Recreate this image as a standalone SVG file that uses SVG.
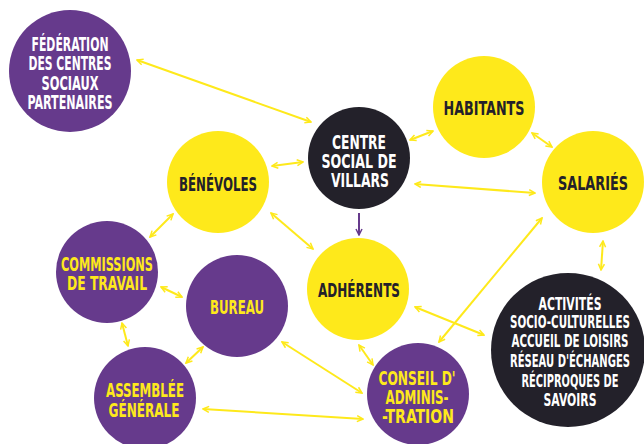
<svg xmlns="http://www.w3.org/2000/svg" width="644" height="444" viewBox="0 0 644 444">
<style>
.p{fill:#663a8c}.y{fill:#fee91b}.k{fill:#23212a}
text{font-family:"DejaVu Sans Condensed","DejaVu Sans",sans-serif;font-weight:bold;font-size:20px;text-anchor:middle}
.tw{fill:#ffffff}.ty{fill:#fee91b}.tk{fill:#23212a}
.s{font-size:17px}
.c{stroke:#fee91b;stroke-width:2;fill:none;marker-start:url(#a);marker-end:url(#a)}
.cp{stroke:#663a8c;stroke-width:2;fill:none;marker-end:url(#ap)}
</style>
<defs>
<marker id="a" viewBox="0 0 8 8" refX="7" refY="4" markerWidth="4" markerHeight="4" orient="auto-start-reverse" markerUnits="strokeWidth"><path d="M1,1 L7,4 L1,7" fill="none" stroke="#fee91b" stroke-width="1.5"/></marker>
<marker id="ap" viewBox="0 0 8 8" refX="7" refY="4" markerWidth="4" markerHeight="4" orient="auto" markerUnits="strokeWidth"><path d="M1,1 L7,4 L1,7" fill="none" stroke="#663a8c" stroke-width="1.5"/></marker>
</defs>
<rect width="644" height="444" fill="#ffffff"/>
<g id="connectors">
<line class="c" x1="137" y1="60" x2="311" y2="122"/>
<line class="c" x1="272" y1="166" x2="303" y2="162"/>
<line class="c" x1="410" y1="140" x2="433" y2="131"/>
<line class="c" x1="532" y1="133" x2="552" y2="147"/>
<line class="c" x1="415" y1="184" x2="535" y2="193"/>
<line class="cp" x1="359" y1="213" x2="359" y2="235"/>
<line class="c" x1="603" y1="241" x2="601" y2="270"/>
<line class="c" x1="542" y1="218" x2="439" y2="342"/>
<line class="c" x1="415" y1="307" x2="484" y2="335"/>
<line class="c" x1="359" y1="345" x2="373" y2="365"/>
<line class="c" x1="282" y1="342" x2="362" y2="393"/>
<line class="c" x1="203" y1="409" x2="363" y2="419"/>
<line class="c" x1="173" y1="214" x2="150" y2="237"/>
<line class="c" x1="271" y1="213" x2="313" y2="249"/>
<line class="c" x1="161" y1="287" x2="182" y2="297"/>
<line class="c" x1="122" y1="323" x2="128" y2="346"/>
<line class="c" x1="203" y1="347" x2="186" y2="363"/>
</g>
<g id="federation"><circle class="p" cx="70" cy="71" r="61"/>
<text class="tw"><tspan x="70" y="51" textLength="77" lengthAdjust="spacingAndGlyphs">FÉDÉRATION</tspan><tspan x="70" y="70" textLength="83" lengthAdjust="spacingAndGlyphs">DES CENTRES</tspan><tspan x="70" y="90" textLength="57" lengthAdjust="spacingAndGlyphs">SOCIAUX</tspan><tspan x="70" y="109" textLength="85" lengthAdjust="spacingAndGlyphs">PARTENAIRES</tspan></text></g>
<g id="benevoles"><circle class="y" cx="218" cy="182" r="51"/>
<text class="tk" x="218" y="191" textLength="78" lengthAdjust="spacingAndGlyphs">BÉNÉVOLES</text></g>
<g id="centre"><circle class="k" cx="359" cy="158" r="51"/>
<text class="tw"><tspan x="359" y="149" textLength="54" lengthAdjust="spacingAndGlyphs">CENTRE</tspan><tspan x="359" y="168" textLength="75" lengthAdjust="spacingAndGlyphs">SOCIAL DE</tspan><tspan x="360" y="187" textLength="58" lengthAdjust="spacingAndGlyphs">VILLARS</tspan></text></g>
<g id="habitants"><circle class="y" cx="484" cy="107" r="51"/>
<text class="tk" x="484" y="115" textLength="81" lengthAdjust="spacingAndGlyphs">HABITANTS</text></g>
<g id="salaries"><circle class="y" cx="593" cy="182" r="51"/>
<text class="tk" x="593" y="190" textLength="70" lengthAdjust="spacingAndGlyphs">SALARIÉS</text></g>
<g id="adherents"><circle class="y" cx="358" cy="289" r="51"/>
<text class="tk" x="359" y="297" textLength="82" lengthAdjust="spacingAndGlyphs">ADHÉRENTS</text></g>
<g id="activites"><circle class="k" cx="568" cy="350" r="77"/>
<text class="tw s"><tspan x="570" y="310" textLength="63" lengthAdjust="spacingAndGlyphs">ACTIVITÉS</tspan><tspan x="570" y="328" textLength="120" lengthAdjust="spacingAndGlyphs">SOCIO-CULTURELLES</tspan><tspan x="570" y="347" textLength="117" lengthAdjust="spacingAndGlyphs">ACCUEIL DE LOISIRS</tspan><tspan x="570" y="367" textLength="120" lengthAdjust="spacingAndGlyphs">RÉSEAU D'ÉCHANGES</tspan><tspan x="570" y="387" textLength="97" lengthAdjust="spacingAndGlyphs">RÉCIPROQUES DE</tspan><tspan x="570" y="406" textLength="53" lengthAdjust="spacingAndGlyphs">SAVOIRS</tspan></text></g>
<g id="conseil"><circle class="p" cx="418" cy="394" r="51"/>
<text class="ty"><tspan x="417" y="385" textLength="77" lengthAdjust="spacingAndGlyphs">CONSEIL D'</tspan><tspan x="417" y="404" textLength="63" lengthAdjust="spacingAndGlyphs">ADMINIS-</tspan><tspan x="418" y="423" textLength="72" lengthAdjust="spacingAndGlyphs">-TRATION</tspan></text></g>
<g id="commissions"><circle class="p" cx="107" cy="272" r="51"/>
<text class="ty"><tspan x="107" y="271" textLength="92" lengthAdjust="spacingAndGlyphs">COMMISSIONS</tspan><tspan x="107" y="290" textLength="80" lengthAdjust="spacingAndGlyphs">DE TRAVAIL</tspan></text></g>
<g id="bureau"><circle class="p" cx="237" cy="306" r="51"/>
<text class="ty" x="237" y="314" textLength="54" lengthAdjust="spacingAndGlyphs">BUREAU</text></g>
<g id="assemblee"><circle class="p" cx="145" cy="398" r="51"/>
<text class="ty"><tspan x="145" y="397" textLength="78" lengthAdjust="spacingAndGlyphs">ASSEMBLÉE</tspan><tspan x="144" y="417" textLength="71" lengthAdjust="spacingAndGlyphs">GÉNÉRALE</tspan></text></g>
</svg>
